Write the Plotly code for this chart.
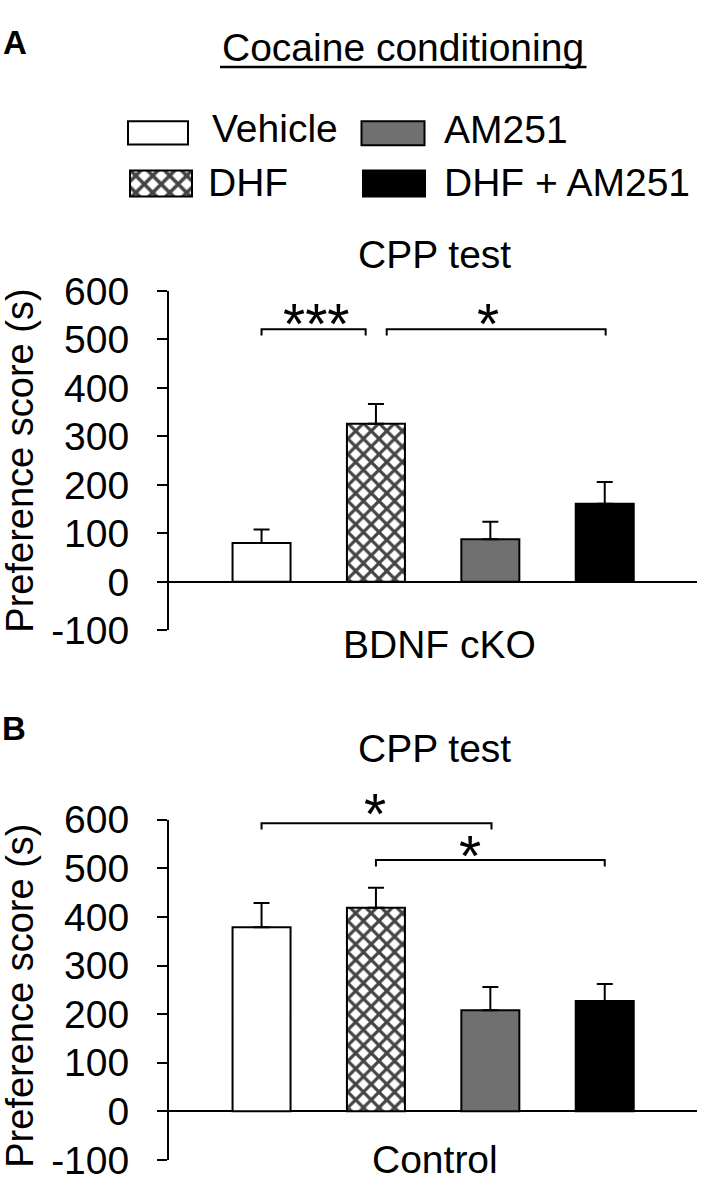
import plotly.graph_objects as go

# ---------------- data ----------------
groups = ["Vehicle", "DHF", "AM251", "DHF + AM251"]
cko_mean = [80, 326, 88, 161]      # BDNF cKO, CPP test (s)
cko_sem = [28, 41, 36, 45]
ctrl_mean = [379, 419, 208, 227]   # Control, CPP test (s)
ctrl_sem = [50, 41, 48, 35]
y_ticks = [-100, 0, 100, 200, 300, 400, 500, 600]
y_ticktext = ["-100", "0", "100", "200", "300", "400", "500", "600"]
# significance comparisons: (group a, group b, bracket height, label)
cko_sig = [(0, 1, 521, "***"), (1, 3, 521, "*")]
ctrl_sig = [(0, 2, 593, "*"), (1, 3, 517, "*")]

# ---------------- style ----------------
FONT = "Liberation Sans, Arial, Helvetica, sans-serif"
FS = 39
W, H = 701, 1199
YMIN, YMAX = -100, 600
fills = ["white", "white", "#707070", "black"]
shapes_pat = ["", "x", "", ""]
# bracket end trims (left, right) in category units, star offsets (dx cat, dy data)
cko_trim = [(0.0, -0.09), (0.094, 0.008)]
cko_star = [(0.025, 10), (-0.07, 10)]
ctrl_trim = [(0.0, 0.01), (0.0, 0.0)]
ctrl_star = [(-0.01, 19), (-0.18, 9)]
DROP = 13          # bracket end drop (data units)
STAR_FS = 57


def px_x(p):
    return p / W


def px_y(p):
    return 1 - p / H


fig = go.Figure()

xdom = [px_x(169), px_x(697.4)]
xrange_ = [-0.809, 3.81]
panels = [
    ("x", "y", cko_mean, cko_sem, cko_sig, cko_trim, cko_star),
    ("x2", "y2", ctrl_mean, ctrl_sem, ctrl_sig, ctrl_trim, ctrl_star),
]

for xa, ya, mean, sem, sig, trim, star in panels:
    fig.add_trace(go.Bar(
        x=list(range(len(groups))), y=mean, width=0.507,
        xaxis=xa, yaxis=ya,
        marker=dict(color=fills, line=dict(color="black", width=2),
                    pattern=dict(shape=shapes_pat, fgcolor="black", bgcolor="white",
                                 fgopacity=1, size=11, solidity=0.5)),
        error_y=dict(type="data", symmetric=False, array=sem, arrayminus=[0] * len(sem),
                     color="black", thickness=2, width=8),
        showlegend=False, hoverinfo="skip",
    ))
    for (a, b, h, lab), (t0, t1), (sdx, sdy) in zip(sig, trim, star):
        x0, x1 = a + t0, b + t1
        fig.add_trace(go.Scatter(
            x=[x0, x0, x1, x1], y=[h - DROP, h, h, h - DROP], mode="lines",
            line=dict(color="black", width=2), xaxis=xa, yaxis=ya,
            showlegend=False, hoverinfo="skip",
        ))
        # star label: y given relative to the axis domain so it may sit above 600
        fig.add_annotation(
            x=(x0 + x1) / 2 + sdx, xref=xa,
            y=(h + sdy - YMIN) / (YMAX - YMIN), yref=f"{ya} domain",
            text=lab, showarrow=False, xanchor="center", yanchor="middle",
            font=dict(family=FONT, size=STAR_FS, color="black"),
        )

axis_common_y = dict(range=[YMIN, YMAX], tickvals=y_ticks, ticktext=y_ticktext,
                     ticks="outside", ticklen=10,
                     tickwidth=2, tickcolor="black", showline=True, linewidth=2,
                     linecolor="black", showgrid=False, zeroline=True, zerolinewidth=2,
                     zerolinecolor="black", tickfont=dict(family=FONT, size=FS, color="black"),
                     ticklabelstandoff=20, fixedrange=True)
axis_common_x = dict(range=xrange_, domain=xdom, visible=False, fixedrange=True)

fig.update_layout(
    width=W, height=H, margin=dict(l=0, r=0, t=0, b=0),
    paper_bgcolor="white", plot_bgcolor="white",
    xaxis=dict(anchor="y", **axis_common_x),
    yaxis=dict(anchor="x", domain=[px_y(632.0), px_y(280.0)], **axis_common_y),
    xaxis2=dict(anchor="y2", **axis_common_x),
    yaxis2=dict(anchor="x2", domain=[px_y(1181.3), px_y(828.5)], **axis_common_y),
    # legend swatch axes, in pixel units
    xaxis3=dict(anchor="y3", domain=[0, 1], range=[0, W], visible=False, fixedrange=True),
    yaxis3=dict(anchor="x3", domain=[px_y(200), px_y(90)], range=[200, 90],
                visible=False, fixedrange=True),
    showlegend=False,
)

# legend: swatches (order: Vehicle, AM251 / DHF, DHF + AM251)
leg_order = [0, 2, 1, 3]
leg_cx = [158, 393, 161, 394]
leg_top = [104, 104, 155, 155]
leg_h = [24, 25, 27, 27]
leg_w = [60, 63, 62, 62]
leg_tx = [210, 442, 205.5, 442]
leg_ty = [112, 113, 168, 168]
fig.add_trace(go.Bar(
    x=leg_cx, y=leg_h, base=leg_top, width=leg_w, xaxis="x3", yaxis="y3",
    marker=dict(color=[fills[i] for i in leg_order], line=dict(color="black", width=2),
                pattern=dict(shape=[shapes_pat[i] for i in leg_order], fgcolor="black",
                             bgcolor="white", fgopacity=1, size=12, solidity=0.5)),
    showlegend=False, hoverinfo="skip",
))
for i, tx, ty in zip(leg_order, leg_tx, leg_ty):
    fig.add_annotation(x=px_x(tx), y=px_y(ty), xref="paper", yref="paper", text=groups[i],
                       showarrow=False, xanchor="left", yanchor="middle",
                       font=dict(family=FONT, size=FS, color="black"))


def txt(t, x, y, size=FS, bold=False, angle=0):
    fig.add_annotation(x=px_x(x), y=px_y(y), xref="paper", yref="paper",
                       text=f"<b>{t}</b>" if bold else t, showarrow=False,
                       xanchor="center", yanchor="middle", textangle=angle,
                       font=dict(family=FONT, size=size, color="black"))


txt("A", 15, 22, size=33, bold=True)
txt("B", 14, 734, size=33, bold=True)
txt("Cocaine conditioning", 403, 27)
fig.add_shape(type="line", xref="paper", yref="paper", x0=px_x(220), x1=px_x(586.5),
              y0=px_y(47.7), y1=px_y(47.7), line=dict(color="black", width=2.5))
txt("CPP test", 434, 242)
txt("CPP test", 434, 755)
txt("BDNF cKO", 439, 647)
txt("Control", 435, 1181)
txt("Preference score (s)", 20, 456, size=38, angle=-90)
txt("Preference score (s)", 20, 1011, size=38, angle=-90)

fig.write_html(
    "out.html",
    config=dict(displayModeBar=False, staticPlot=True),
    post_script="document.body.style.margin='0';document.body.style.padding='0';"
                "document.body.style.overflow='hidden';",
)
